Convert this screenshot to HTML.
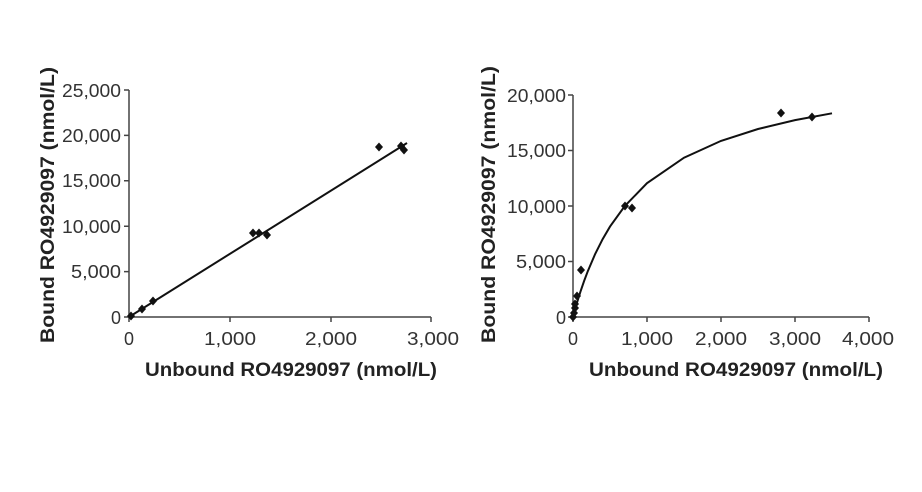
<!DOCTYPE html>
<html><head><style>body{margin:0;background:#fff}svg{display:block}text{font-family:"Liberation Sans",Arial,sans-serif}</style></head><body>
<svg width="922" height="492" viewBox="0 0 922 492" xmlns="http://www.w3.org/2000/svg">
<defs><path id="d" d="M0,-4.5 L4,0 L0,4.5 L-4,0Z" fill="#111"/></defs>
<!-- Left chart -->
<g stroke="#444" stroke-width="1.5" fill="none">
<path d="M129,90 V317 H431"/>
<path d="M124,90 H129 M124,135.4 H129 M124,180.8 H129 M124,226.2 H129 M124,271.6 H129 M124,317 H129"/>
<path d="M129,317 V322 M230,317 V322 M331,317 V322 M431,317 V322"/>
</g>
<g font-size="18" fill="#333" text-anchor="end">
<text x="121" y="97" textLength="59" lengthAdjust="spacingAndGlyphs">25,000</text><text x="121" y="142" textLength="59" lengthAdjust="spacingAndGlyphs">20,000</text><text x="121" y="187" textLength="59" lengthAdjust="spacingAndGlyphs">15,000</text><text x="121" y="233" textLength="59" lengthAdjust="spacingAndGlyphs">10,000</text><text x="121" y="278" textLength="50" lengthAdjust="spacingAndGlyphs">5,000</text><text x="121" y="324">0</text>
</g>
<g font-size="18" fill="#333" text-anchor="middle">
<text x="129" y="345">0</text><text x="230" y="345" textLength="52" lengthAdjust="spacingAndGlyphs">1,000</text><text x="331" y="345" textLength="52" lengthAdjust="spacingAndGlyphs">2,000</text><text x="433" y="345" textLength="52" lengthAdjust="spacingAndGlyphs">3,000</text>
</g>
<text x="145" y="376" font-size="19" font-weight="bold" fill="#222" textLength="292" lengthAdjust="spacingAndGlyphs">Unbound RO4929097 (nmol/L)</text>
<text transform="translate(54,343) rotate(-90)" font-size="19" font-weight="bold" fill="#222" textLength="276" lengthAdjust="spacingAndGlyphs">Bound RO4929097 (nmol/L)</text>
<line x1="129" y1="317" x2="407" y2="143" stroke="#111" stroke-width="2"/>
<g>
<use href="#d" x="131" y="316"/><use href="#d" x="142" y="309"/><use href="#d" x="153" y="301"/>
<use href="#d" x="253" y="233"/><use href="#d" x="259" y="233"/><use href="#d" x="267" y="235"/>
<use href="#d" x="379" y="147"/><use href="#d" x="404" y="150"/><use href="#d" x="401" y="146"/>
</g>
<!-- Right chart -->
<g stroke="#444" stroke-width="1.5" fill="none">
<path d="M573,95 V317 H869"/>
<path d="M568,95 H573 M568,150.5 H573 M568,206 H573 M568,261.5 H573 M568,317 H573"/>
<path d="M573,317 V322 M647,317 V322 M721,317 V322 M795,317 V322 M869,317 V322"/>
</g>
<g font-size="18" fill="#333" text-anchor="end">
<text x="566" y="102" textLength="59" lengthAdjust="spacingAndGlyphs">20,000</text><text x="566" y="157" textLength="59" lengthAdjust="spacingAndGlyphs">15,000</text><text x="566" y="213" textLength="59" lengthAdjust="spacingAndGlyphs">10,000</text><text x="566" y="268" textLength="50" lengthAdjust="spacingAndGlyphs">5,000</text><text x="566" y="324">0</text>
</g>
<g font-size="18" fill="#333" text-anchor="middle">
<text x="573" y="345">0</text><text x="647" y="345" textLength="52" lengthAdjust="spacingAndGlyphs">1,000</text><text x="721" y="345" textLength="52" lengthAdjust="spacingAndGlyphs">2,000</text><text x="795" y="345" textLength="52" lengthAdjust="spacingAndGlyphs">3,000</text><text x="868" y="345" textLength="52" lengthAdjust="spacingAndGlyphs">4,000</text>
</g>
<text x="589" y="376" font-size="19" font-weight="bold" fill="#222" textLength="294" lengthAdjust="spacingAndGlyphs">Unbound RO4929097 (nmol/L)</text>
<text transform="translate(495,343) rotate(-90)" font-size="19" font-weight="bold" fill="#222" textLength="277" lengthAdjust="spacingAndGlyphs">Bound RO4929097 (nmol/L)</text>
<path fill="none" stroke="#111" stroke-width="2" d="M573,317 L573.7,314.2 L575.2,308.9 L577.4,301.3 L580.4,291.8 L584.1,281 L587.8,271.2 L595.2,253.9 L602.6,239.2 L610,226.6 L624.8,206 L647,183.2 L684,157.7 L721,140.9 L758,129 L795,120.1 L832,113.3"/>
<g>
<use href="#d" x="573" y="317"/><use href="#d" x="574" y="313"/><use href="#d" x="575" y="308"/><use href="#d" x="575" y="304"/>
<use href="#d" x="577" y="296"/><use href="#d" x="581" y="270"/>
<use href="#d" x="625" y="206"/><use href="#d" x="632" y="208"/>
<use href="#d" x="781" y="113"/><use href="#d" x="812" y="117"/>
</g>
</svg>
</body></html>
